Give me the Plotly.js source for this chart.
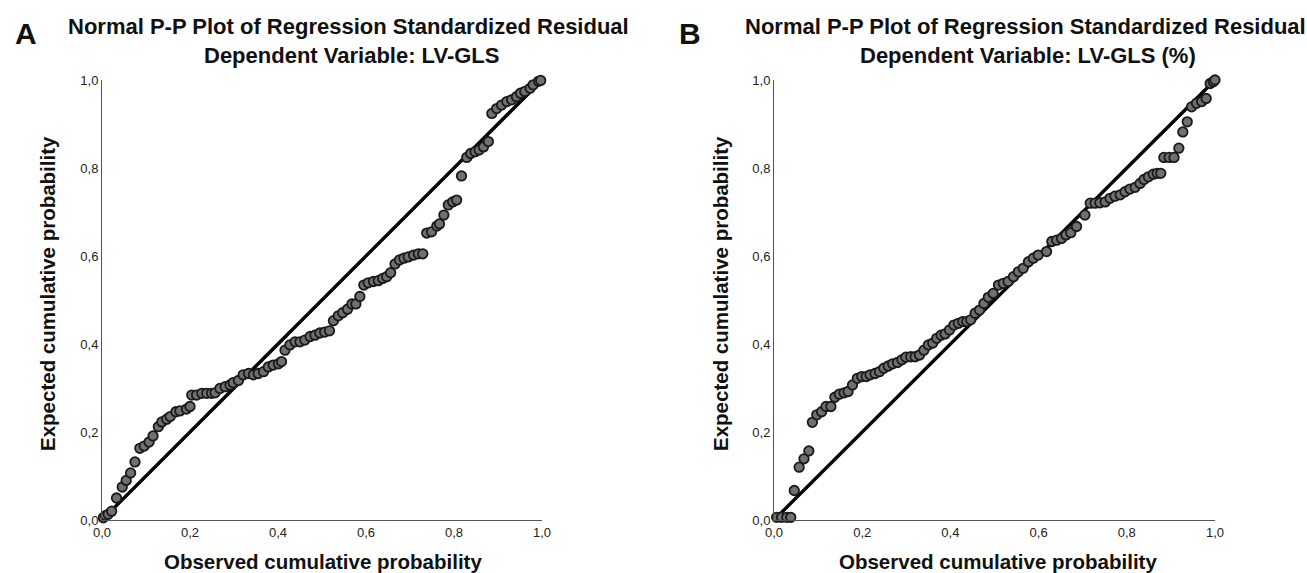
<!DOCTYPE html>
<html>
<head>
<meta charset="utf-8">
<script src="https://cdn.plot.ly/plotly-3.0.1.min.js"></script>
<style>html,body{margin:0;padding:0;background:#fff;}#chart{width:1307px;height:573px;}</style>
</head>
<body>
<div id="chart"></div>
<script>
// Panel A: Normal P-P plot, Dependent Variable: LV-GLS
const observedA = [0.003,0.008,0.014,0.022,0.033,0.046,0.055,0.065,0.075,0.086,
  0.096,0.107,0.116,0.128,0.136,0.147,0.155,0.168,0.177,0.192,
  0.200,0.204,0.215,0.227,0.238,0.249,0.257,0.268,0.280,0.291,
  0.298,0.310,0.321,0.333,0.344,0.355,0.367,0.378,0.389,0.401,
  0.408,0.416,0.427,0.439,0.450,0.461,0.473,0.484,0.495,0.506,
  0.517,0.526,0.537,0.547,0.558,0.568,0.577,0.586,0.595,0.605,
  0.617,0.628,0.638,0.647,0.656,0.666,0.676,0.686,0.696,0.708,
  0.719,0.729,0.738,0.749,0.761,0.767,0.777,0.787,0.797,0.806,
  0.817,0.829,0.838,0.848,0.857,0.867,0.878,0.886,0.897,0.908,
  0.920,0.931,0.942,0.951,0.961,0.973,0.980,0.992,0.997];
const expectedA = [0.005,0.010,0.013,0.020,0.050,0.075,0.090,0.107,0.132,0.163,
  0.168,0.177,0.191,0.212,0.223,0.229,0.235,0.246,0.248,0.252,
  0.258,0.284,0.284,0.288,0.288,0.288,0.289,0.299,0.303,0.307,
  0.312,0.317,0.330,0.333,0.330,0.333,0.337,0.348,0.352,0.355,
  0.360,0.386,0.398,0.405,0.405,0.409,0.417,0.420,0.425,0.427,
  0.430,0.453,0.464,0.471,0.479,0.491,0.491,0.508,0.534,0.539,
  0.542,0.544,0.549,0.553,0.562,0.582,0.591,0.595,0.598,0.602,
  0.605,0.605,0.652,0.655,0.668,0.673,0.693,0.716,0.723,0.727,
  0.782,0.824,0.833,0.837,0.841,0.848,0.860,0.924,0.935,0.943,
  0.951,0.955,0.962,0.970,0.974,0.981,0.989,0.997,0.999];

// Panel B: Normal P-P plot, Dependent Variable: LV-GLS (%)
const observedB = [0.006,0.017,0.029,0.038,0.046,0.057,0.068,0.079,0.087,0.097,
  0.108,0.118,0.129,0.138,0.148,0.159,0.168,0.178,0.189,0.199,
  0.209,0.218,0.229,0.239,0.249,0.259,0.269,0.280,0.290,0.299,
  0.310,0.320,0.330,0.340,0.350,0.360,0.369,0.379,0.388,0.398,
  0.408,0.418,0.428,0.437,0.446,0.456,0.466,0.476,0.486,0.497,
  0.509,0.520,0.531,0.543,0.554,0.565,0.577,0.588,0.599,0.618,
  0.630,0.641,0.652,0.662,0.673,0.686,0.705,0.717,0.728,0.739,
  0.751,0.762,0.773,0.785,0.796,0.807,0.819,0.830,0.839,0.849,
  0.860,0.869,0.877,0.884,0.896,0.907,0.918,0.927,0.937,0.947,
  0.958,0.970,0.980,0.989,0.996,1.000];
const expectedB = [0.006,0.006,0.006,0.006,0.067,0.120,0.139,0.157,0.222,0.239,
  0.246,0.258,0.258,0.279,0.286,0.289,0.292,0.307,0.322,0.326,
  0.326,0.330,0.333,0.337,0.345,0.350,0.355,0.358,0.364,0.370,
  0.371,0.371,0.375,0.386,0.398,0.402,0.413,0.420,0.423,0.432,
  0.443,0.447,0.451,0.451,0.455,0.470,0.477,0.492,0.506,0.515,
  0.534,0.538,0.542,0.553,0.564,0.572,0.587,0.595,0.602,0.610,
  0.633,0.636,0.640,0.648,0.653,0.667,0.693,0.720,0.720,0.721,
  0.723,0.731,0.736,0.739,0.746,0.752,0.756,0.765,0.774,0.780,
  0.786,0.788,0.788,0.824,0.824,0.824,0.845,0.882,0.905,0.939,
  0.947,0.951,0.958,0.992,0.996,1.000];

const refLine = [0, 1];
const tickVals = [0, 0.2, 0.4, 0.6, 0.8, 1.0];
const tickText = ["0,0", "0,2", "0,4", "0,6", "0,8", "1,0"];

const W = 1307, H = 573;
const px = v => v / W;
const py = v => 1 - v / H;

const marker = {size: 9.5, color: '#707070', line: {color: '#1a1a1a', width: 1.8}};
const lineStyle = {color: '#000', width: 3.4};

const traces = [
  {x: refLine, y: refLine, xaxis: 'x', yaxis: 'y', mode: 'lines', line: lineStyle, hoverinfo: 'skip'},
  {x: observedA, y: expectedA, xaxis: 'x', yaxis: 'y', mode: 'markers', marker: marker, cliponaxis: false},
  {x: refLine, y: refLine, xaxis: 'x2', yaxis: 'y2', mode: 'lines', line: lineStyle, hoverinfo: 'skip'},
  {x: observedB, y: expectedB, xaxis: 'x2', yaxis: 'y2', mode: 'markers', marker: marker, cliponaxis: false}
];

const axisBase = {
  range: [0, 1], tickvals: tickVals, ticktext: tickText, ticks: '',
  showgrid: false, zeroline: false, showline: true, linecolor: '#555', linewidth: 1,
  tickfont: {family: 'Liberation Sans, Arial, sans-serif', size: 13, color: '#222'},
  fixedrange: true
};

const yDom = [py(520), py(80)];
const layout = {
  width: W, height: H,
  margin: {l: 0, r: 0, t: 0, b: 0},
  paper_bgcolor: '#fff', plot_bgcolor: '#fff',
  showlegend: false,
  xaxis: Object.assign({}, axisBase, {domain: [px(102), px(542)], anchor: 'y'}),
  yaxis: Object.assign({}, axisBase, {domain: yDom, anchor: 'x'}),
  xaxis2: Object.assign({}, axisBase, {domain: [px(774), px(1215)], anchor: 'y2'}),
  yaxis2: Object.assign({}, axisBase, {domain: yDom, anchor: 'x2'}),
  annotations: []
};

const bold = (size) => ({family: 'Liberation Sans, Arial, sans-serif', size: size, color: '#111'});
function ann(text, x, y, size, opts) {
  layout.annotations.push(Object.assign({
    text: '<b>' + text + '</b>', x: px(x), y: py(y), xref: 'paper', yref: 'paper',
    showarrow: false, xanchor: 'center', yanchor: 'middle', font: bold(size)
  }, opts || {}));
}
ann('A', 26, 34, 30);
ann('B', 690, 34, 30);
ann('Normal P-P Plot of Regression Standardized Residual', 348, 27, 22);
ann('Dependent Variable: LV-GLS', 351, 56, 22);
ann('Normal P-P Plot of Regression Standardized Residual', 1025, 27, 22);
ann('Dependent Variable: LV-GLS (%)', 1028, 56, 22);
ann('Observed cumulative probability', 323, 561, 20.5);
ann('Observed cumulative probability', 998, 561, 20.5);
ann('Expected cumulative probability', 47, 294, 20.5, {textangle: -90});
ann('Expected cumulative probability', 720, 294, 20.5, {textangle: -90});

Plotly.newPlot('chart', traces, layout, {displayModeBar: false, staticPlot: true});
</script>
</body>
</html>
